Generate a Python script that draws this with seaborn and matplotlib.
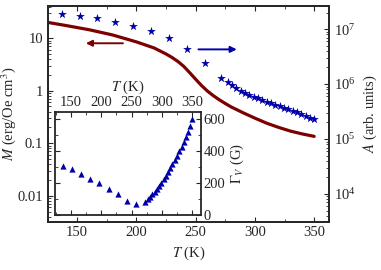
import matplotlib
matplotlib.use('Agg')
import matplotlib.pyplot as plt
import seaborn as sns
from matplotlib.ticker import MultipleLocator

sns.set_style('ticks')
plt.rcParams['font.family'] = ['Liberation Serif', 'DejaVu Serif']
plt.rcParams['mathtext.fontset'] = 'stix'
plt.rcParams['font.size'] = 10.5

# temperatures of the star / triangle measurements (K)
temps = [137, 152, 167, 182, 197, 212, 227.5, 242.5, 257.5, 271.5, 277, 280.5, 284, 288,
         291.5, 295, 299, 302.5, 306, 310, 313.5, 317, 321, 324.5, 328, 332, 335.5, 339,
         343, 346.5, 350]
# amplitude A (arb. units), right axis
amp = [1.87e7, 1.75e7, 1.57e7, 1.36e7, 1.15e7, 9.3e6, 6.95e6, 4.28e6, 2.44e6, 1.27e6,
       1.07e6, 9.5e5, 8.35e5, 7.55e5, 6.95e5, 6.39e5, 5.87e5, 5.5e5, 5.12e5, 4.77e5,
       4.46e5, 4.15e5, 3.93e5, 3.71e5, 3.47e5, 3.27e5, 3.06e5, 2.85e5, 2.62e5, 2.44e5, 2.28e5]
# linewidth Gamma_V (G), inset
gamma = [309, 287, 255, 226, 199, 165, 130, 88, 67, 83, 97, 112, 128, 145, 163, 182, 202,
         223, 245, 268, 292, 317, 343, 370, 398, 427, 457, 488, 520, 560, 600]
# magnetization curve M(T)
m_temp = [125, 140, 160, 180, 200, 215, 225, 230, 235, 240, 245, 250, 255, 260, 265, 270,
          275, 280, 290, 300, 310, 320, 330, 340, 350]
m_vals = [20, 17.5, 14.5, 11.5, 8.5, 6.5, 5.0, 4.3, 3.6, 2.9, 2.2, 1.65, 1.25, 0.98, 0.8,
          0.67, 0.57, 0.49, 0.38, 0.3, 0.24, 0.2, 0.17, 0.15, 0.135]

red = '#7d0000'
blue = '#0000a8'

fig = plt.figure(figsize=(3.81, 2.70), dpi=100)
ax = fig.add_axes([0.1247, 0.1778, 0.7388, 0.80])
ax2 = ax.twinx()

sns.lineplot(x=m_temp, y=m_vals, ax=ax, color=red, lw=2.3)
ax.set_yscale('log')
ax.set_xlim(125, 362.5)
ax.set_ylim(0.00316, 41)
ax.set_xticks([150, 200, 250, 300, 350])
ax.xaxis.set_minor_locator(MultipleLocator(25))
ax.set_yticks([0.01, 0.1, 1, 10])
ax.set_yticklabels(['0.01', '0.1', '1', '10'])
ax.set_xlabel('$T$ (K)')
ax.set_ylabel('$M$ (erg/Oe cm$^3$)')
ax.yaxis.set_label_coords(-0.105, 0.5)
ax.tick_params(which='both', direction='in', top=True, right=False, pad=3)
ax.annotate('', xy=(155, 8.0), xytext=(191, 8.0),
            arrowprops=dict(arrowstyle='-|>', color=red, lw=1.4, mutation_scale=9))

sns.scatterplot(x=temps, y=amp, ax=ax2, marker='*', s=44, color=blue, linewidth=0)
ax2.set_yscale('log')
ax2.set_ylim(10**3.49, 10**7.42)
ax2.set_yticks([1e4, 1e5, 1e6, 1e7])
ax2.set_ylabel('$A$ (arb. units)')
ax2.tick_params(which='both', direction='in')
ax2.annotate('', xy=(287, 4.27e6), xytext=(250, 4.27e6),
             arrowprops=dict(arrowstyle='-|>', color=blue, lw=1.4, mutation_scale=9))

for a in (ax, ax2):
    for s in a.spines.values():
        s.set_linewidth(1.3)

# inset
axi = fig.add_axes([0.1444, 0.2019, 0.3832, 0.3833])
sns.scatterplot(x=temps, y=gamma, ax=axi, marker='^', s=20, color=blue, linewidth=0)
axi.set_xlim(124, 364)
axi.set_ylim(-4, 645)
axi.set_xticks([150, 200, 250, 300, 350])
axi.xaxis.set_minor_locator(MultipleLocator(25))
axi.set_yticks([0, 200, 400, 600])
axi.yaxis.set_minor_locator(MultipleLocator(100))
axi.xaxis.tick_top()
axi.xaxis.set_label_position('top')
axi.yaxis.tick_right()
axi.yaxis.set_label_position('right')
axi.tick_params(which='both', direction='in', top=True, bottom=True, left=True, right=True,
                labeltop=True, labelbottom=False, labelleft=False, labelright=True, pad=2)
axi.set_xlabel('$T$ (K)', labelpad=4)
axi.set_ylabel(r'$\Gamma_V$ (G)', labelpad=2)
for s in axi.spines.values():
    s.set_linewidth(1.3)

fig.savefig('out.png', dpi=100)
